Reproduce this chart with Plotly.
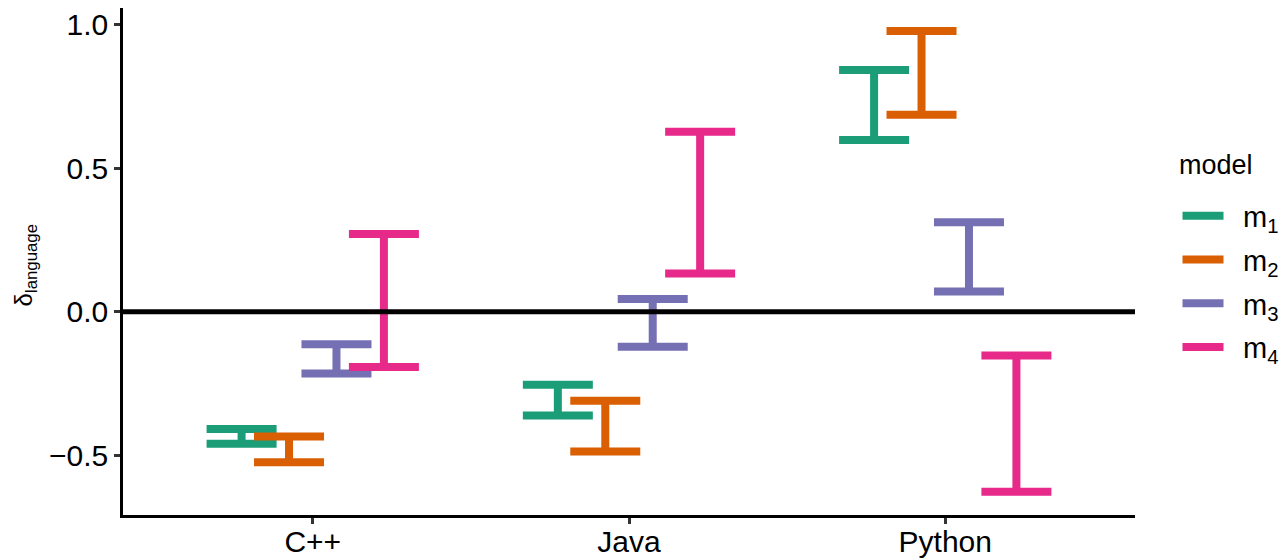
import plotly.graph_objects as go

languages = ["C++", "Java", "Python"]
models = ["m1", "m2", "m3", "m4"]
model_labels = ["m<sub>1</sub>", "m<sub>2</sub>", "m<sub>3</sub>", "m<sub>4</sub>"]
colors = ["#1B9E77", "#D95F02", "#7570B3", "#E7298A"]

# lower / upper bounds per model, ordered as languages
lower = {
    "m1": [-0.460, -0.361, 0.599],
    "m2": [-0.524, -0.487, 0.687],
    "m3": [-0.215, -0.122, 0.071],
    "m4": [-0.192, 0.134, -0.627],
}
upper = {
    "m1": [-0.408, -0.254, 0.843],
    "m2": [-0.434, -0.310, 0.979],
    "m3": [-0.113, 0.045, 0.312],
    "m4": [0.271, 0.628, -0.152],
}

dodge_width = 0.6
n = len(models)
fig = go.Figure()
for i, m in enumerate(models):
    off = -dodge_width / 2 + dodge_width / n * (i + 0.5)
    xs = [j + 1 + off for j in range(len(languages))]
    mids = [(lo + hi) / 2 for lo, hi in zip(lower[m], upper[m])]
    half = [(hi - lo) / 2 for lo, hi in zip(lower[m], upper[m])]
    fig.add_trace(go.Scatter(
        x=xs, y=mids, mode="markers",
        marker=dict(size=0.1, color=colors[i], opacity=0),
        error_y=dict(type="data", array=half, symmetric=True,
                     color=colors[i], thickness=8, width=35),
        showlegend=False, hoverinfo="skip",
    ))
    fig.add_trace(go.Scatter(
        x=[None], y=[None], mode="lines",
        line=dict(color=colors[i], width=8),
        name="\u2002" + model_labels[i], showlegend=True, legendgroup=m,
    ))

fig.add_hline(y=0, line=dict(color="black", width=5), layer="above")

fig.add_annotation(
    text="model", xref="paper", yref="paper", x=1.0415, y=0.69,
    xanchor="left", yanchor="middle", showarrow=False,
    font=dict(size=27, color="black"),
)
fig.add_annotation(
    text="\u03b4<sub>language</sub>", xref="paper", yref="paper",
    x=-0.0965, y=0.493, xanchor="center", yanchor="middle",
    textangle=-90, showarrow=False, font=dict(size=24, color="black"),
)

font_family = "Liberation Sans, Arial, sans-serif"
fig.update_layout(
    width=1287, height=559,
    margin=dict(l=115, r=160, t=0, b=52, autoexpand=False),
    plot_bgcolor="white", paper_bgcolor="white",
    font=dict(family=font_family, color="black", size=29),
    legend=dict(
        x=1.042, xanchor="left", y=0.4606, yanchor="middle",
        font=dict(size=29), tracegroupgap=3, itemwidth=41,
    ),
    xaxis=dict(
        range=[0.4, 3.6], tickvals=[1, 2, 3], ticktext=languages,
        showline=True, linecolor="black", linewidth=2.5,
        ticks="outside", ticklen=6, tickwidth=2.5, tickcolor="#333333",
        showgrid=False, zeroline=False, automargin=False,
        tickfont=dict(size=30, color="black"), ticklabelstandoff=-8,
    ),
    yaxis=dict(
        range=[-0.708, 1.059], tickvals=[-0.5, 0, 0.5, 1.0],
        ticktext=["\u22120.5", "0.0", "0.5", "1.0"],
        showline=True, linecolor="black", linewidth=2.5,
        ticks="outside", ticklen=6, tickwidth=2.5, tickcolor="#333333",
        showgrid=False, zeroline=False, automargin=False,
        tickfont=dict(size=30, color="black"),
    ),
)

fig.write_html("out.html")
